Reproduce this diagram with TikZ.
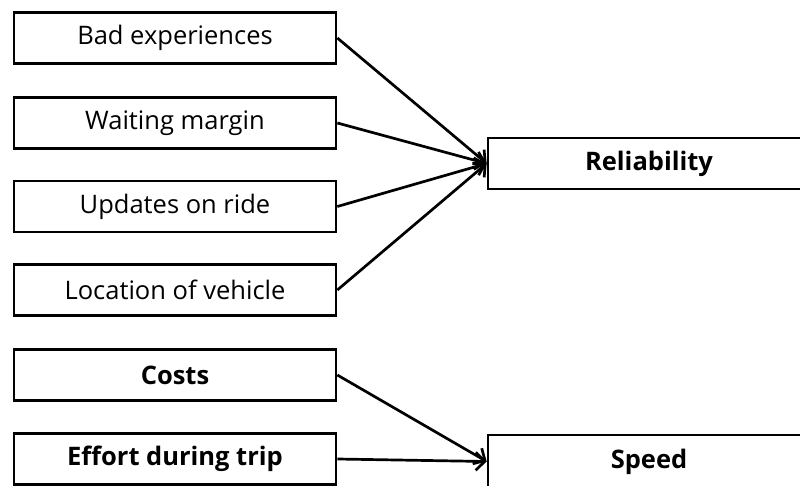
\documentclass[tikz,border=0pt]{standalone}
\usepackage{fontspec}
\setmainfont{Open Sans}
\usetikzlibrary{arrows.meta}
\begin{document}
\begin{tikzpicture}[x=1pt,y=-1pt,
  factor/.style={draw,line width=2.7pt,minimum width=322pt,minimum height=51pt,
    inner sep=0pt,font=\fontsize{25.5}{30}\selectfont},
  keyfactor/.style={factor,font=\fontsize{25.5}{30}\selectfont\bfseries},
  link/.style={line width=2.7pt,-{Straight Barb[length=9pt,width=18pt,line width=2.7pt]}}]
  \useasboundingbox (0,0) rectangle (800,486);
  \clip (0,0) rectangle (800,486);
  % left-hand factors
  \node[factor] (bad) at (175,38) {Bad experiences};
  \node[factor] (wait) at (175,123) {Waiting margin};
  \node[factor] (upd) at (175,206.5) {Updates on ride};
  \node[factor] (loc) at (175,290) {Location of vehicle};
  \node[keyfactor] (cost) at (175,375) {Costs};
  \node[keyfactor] (eff) at (175,459) {Effort during trip};
  % outcomes
  \node[keyfactor] (rel) at (649,163.5) {Reliability};
  \node[keyfactor,minimum height=53pt] (spd) at (649,461.5) {\raisebox{4pt}{Speed}};
  % influences
  \draw[link] (bad.east) -- (rel.west);
  \draw[link] (wait.east) -- (rel.west);
  \draw[link] (upd.east) -- (rel.west);
  \draw[link] (loc.east) -- (rel.west);
  \draw[link] (cost.east) -- (spd.west);
  \draw[link] (eff.east) -- (spd.west);
\end{tikzpicture}
\end{document}
